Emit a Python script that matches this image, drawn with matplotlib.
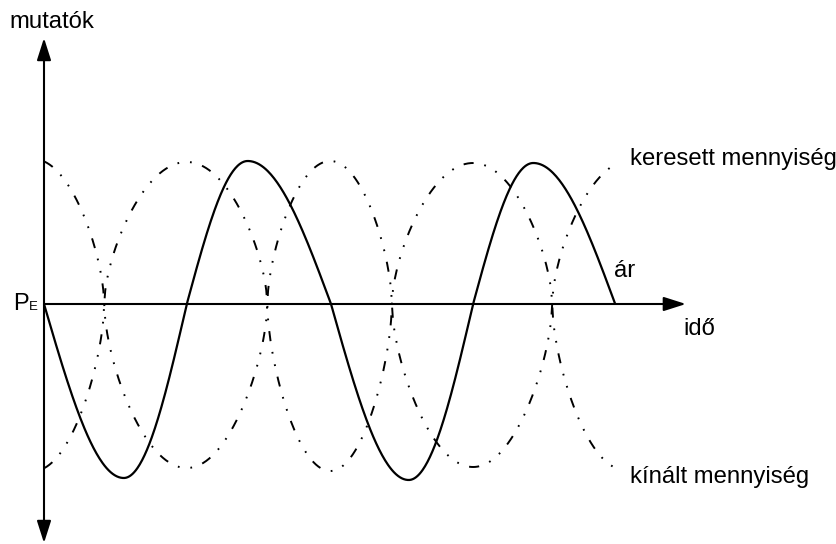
import numpy as np
import matplotlib
matplotlib.use("Agg")
import matplotlib.pyplot as plt

plt.rcParams['font.family'] = ['Liberation Sans', 'DejaVu Sans']

# ---- data (time units, deviation from equilibrium) ----
price_t = [0.0, 1.14, 2.04, 2.91, 4.10, 5.21, 6.13, 6.99, 8.16]
price_v = [0.0, -1.74, 0.0, 1.43, 0.0, -1.76, 0.0, 1.41, 0.0]

demand_t = [-0.15, 0.86, 2.04, 3.19, 4.09, 4.97, 6.13, 7.26, 8.39]
demand_v = [1.45, 0.0, -1.64, 0.0, 1.43, 0.0, -1.63, 0.0, 1.44]
demand_end = 8.19

supply_t = [-0.15, 0.86, 2.04, 3.19, 4.09, 4.97, 6.13, 7.26, 8.30]
supply_v = [-1.67, 0.0, 1.42, 0.0, -1.67, 0.0, 1.41, 0.0, -1.66]
supply_end = 8.19

labels = {
    'y': 'mutatók', 'x': 'idő', 'price': 'ár',
    'demand': 'keresett mennyiség', 'supply': 'kínált mennyiség',
    'pe': 'P', 'pe_sub': 'E',
}


def shaped(knots_t, knots_v, p, t_start=None, t_end=None, n=80):
    xs, ys = [], []
    for a in range(len(knots_t) - 1):
        t0, t1 = knots_t[a], knots_t[a + 1]
        v0, v1 = knots_v[a], knots_v[a + 1]
        s = np.linspace(0, 1, n)
        y = v0 * np.cos(np.pi / 2 * s) ** p + v1 * np.sin(np.pi / 2 * s) ** p
        x = t0 + (t1 - t0) * s
        xs.append(x)
        ys.append(y)
    x = np.concatenate(xs)
    y = np.concatenate(ys)
    m = np.ones_like(x, dtype=bool)
    if t_start is not None:
        m &= x >= t_start
    if t_end is not None:
        m &= x <= t_end
    return x[m], y[m]


fig = plt.figure(figsize=(8.37, 5.44), dpi=100)
ax = fig.add_axes([0, 0, 1, 1])
ax.set_xlim(-44 / 70, (837 - 44) / 70)
ax.set_ylim((304 - 544) / 100, 304 / 100)
ax.axis('off')

dd = (0, (5.2, 5.6, 0.9, 5.6, 0.9, 5.6))

x, y = shaped(demand_t, demand_v, 0.6, 0.0, demand_end)
ax.plot(x, y, color='black', lw=1.4, linestyle=dd)
x, y = shaped(supply_t, supply_v, 0.6, 0.0, supply_end)
ax.plot(x, y, color='black', lw=1.4, linestyle=dd)
x, y = shaped(price_t, price_v, 1.0)
ax.plot(x, y, color='black', lw=1.6, solid_capstyle='butt')

# axes with arrows
arr = dict(arrowstyle='-|>,head_length=13.5,head_width=4.3', color='black',
           lw=1.5, shrinkA=0, shrinkB=0, mutation_scale=1)
ax.annotate('', xy=(0, 2.66), xytext=(0, 0), arrowprops=arr)
ax.annotate('', xy=(0, -2.39), xytext=(0, 0), arrowprops=arr)
ax.annotate('', xy=(9.17, 0), xytext=(0, 0), arrowprops=arr)

fs = 17.2
ax.text(-0.50, 2.82, labels['y'], fontsize=fs, ha='left', va='center')
ax.text(9.13, -0.25, labels['x'], fontsize=fs, ha='left', va='center')
ax.text(8.15, 0.33, labels['price'], fontsize=fs, ha='left', va='center')
ax.text(8.37, 1.45, labels['demand'], fontsize=fs, ha='left', va='center')
ax.text(8.37, -1.73, labels['supply'], fontsize=fs, ha='left', va='center')
ax.text(-0.44, -0.06, labels['pe'], fontsize=17, ha='left', va='baseline')
ax.text(-0.21, -0.06, labels['pe_sub'], fontsize=9.5, ha='left', va='baseline')

fig.savefig('out.png', dpi=100)
